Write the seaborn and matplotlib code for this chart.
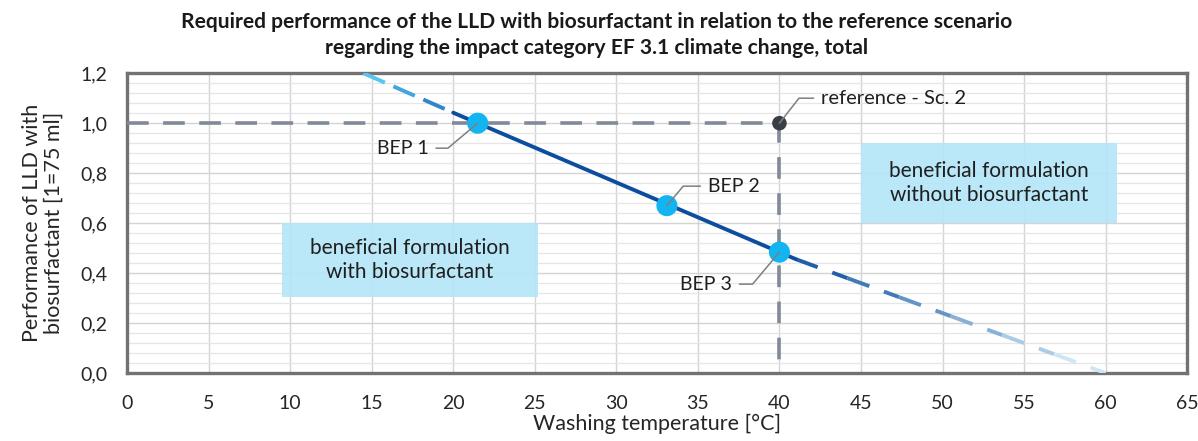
import numpy as np
import pandas as pd
import matplotlib
matplotlib.use("Agg")
import matplotlib.pyplot as plt
import seaborn as sns
from matplotlib.ticker import MultipleLocator, FuncFormatter
from matplotlib.patches import Rectangle
from matplotlib.colors import LinearSegmentedColormap

# data
solid_x = [20.0, 41.0]
solid_y = [1.042, 0.456]
upper_dash_x = [14.5, 20.0]
upper_dash_y = [1.2, 1.042]
lower_dash_x = [41.0, 60.0]
lower_dash_y = [0.456, 0.0]
ref_line_x = [0, 40, 40]
ref_line_y = [1.0, 1.0, 0.0]
bep_names = ["BEP 1", "BEP 2", "BEP 3"]
bep_x = [21.5, 33.1, 40.0]
bep_y = [1.0, 0.67, 0.484]
ref_x = [40.0]
ref_y = [1.0]

sns.set_theme(style="white")
plt.rcParams["font.family"] = ["Lato", "DejaVu Sans"]

fig = plt.figure(figsize=(11.98, 4.41), dpi=100)
ax = fig.add_axes([0.106, 0.154, 0.885, 0.680])

ax.set_xlim(0, 65)
ax.set_ylim(0, 1.2)
ax.xaxis.set_major_locator(MultipleLocator(5))
ax.yaxis.set_major_locator(MultipleLocator(0.2))
ax.yaxis.set_minor_locator(MultipleLocator(0.04))
ax.yaxis.set_major_formatter(FuncFormatter(lambda v, p: f"{v:.1f}".replace(".", ",")))
ax.grid(which="major", axis="both", color="#d4d4d4", lw=1.0, zorder=0)
ax.grid(which="minor", axis="y", color="#e6e6e6", lw=0.9, zorder=0)
ax.set_axisbelow(True)
ax.tick_params(axis="both", which="both", length=0, labelsize=14, colors="#262626")
ax.tick_params(axis="y", pad=14)
ax.tick_params(axis="x", pad=16)
for s in ax.spines.values():
    s.set_color("#767171")
    s.set_linewidth(2.4)

# boxes
ax.add_patch(Rectangle((9.5, 0.304), 15.7, 0.296, color="#b3e6f8", alpha=0.9, lw=0, zorder=1))
ax.add_patch(Rectangle((45.0, 0.60), 15.7, 0.32, color="#b3e6f8", alpha=0.9, lw=0, zorder=1))
ax.text(17.35, 0.452, "beneficial formulation\nwith biosurfactant", ha="center", va="center",
        fontsize=15, color="#1f1f1f", linespacing=1.25, zorder=2)
ax.text(52.85, 0.76, "beneficial formulation\nwithout biosurfactant", ha="center", va="center",
        fontsize=15, color="#1f1f1f", linespacing=1.25, zorder=2)

# reference dashed lines
sns.lineplot(x=ref_line_x, y=ref_line_y, sort=False, estimator=None, ax=ax, color="#808a98",
             lw=2.6, dashes=False, zorder=3)
ax.lines[-1].set_dashes([6, 4])

# dashed extensions with colour fade
def fade_dash(xs, ys, c0, c1, n=6):
    cmap = LinearSegmentedColormap.from_list("f", [c0, c1])
    tx = np.linspace(xs[0], xs[1], n + 1)
    ty = np.linspace(ys[0], ys[1], n + 1)
    for i in range(n):
        ax.plot(tx[i:i + 2], ty[i:i + 2], color=cmap(i / (n - 1)), lw=2.8,
                dashes=[6, 4], solid_capstyle="butt", zorder=4)

fade_dash(upper_dash_x, upper_dash_y, "#56c6f0", "#2f86c8", n=3)
fade_dash(lower_dash_x, lower_dash_y, "#1f5fa8", "#cfe7f5", n=6)

sns.lineplot(x=solid_x, y=solid_y, ax=ax, color="#0d4d9e", lw=2.8, zorder=5)

sns.scatterplot(x=bep_x, y=bep_y, ax=ax, s=230, color="#13b5f0", edgecolor="none", zorder=6)
sns.scatterplot(x=ref_x, y=ref_y, ax=ax, s=110, color="#3a3f46", edgecolor="none", zorder=6)

# labels with leader lines
lead = dict(arrowstyle="-", color="#7f7f7f", lw=1.1, shrinkA=3, shrinkB=0)
label_pos = [(16.9, 0.90, "angle,angleA=0,angleB=40,rad=0"),
             (37.2, 0.748, "angle,angleA=0,angleB=50,rad=0"),
             (35.5, 0.356, "angle,angleA=0,angleB=50,rad=0")]
for name, bx, by, (tx, ty, cs) in zip(bep_names, bep_x, bep_y, label_pos):
    ax.annotate(name, xy=(bx, by), xytext=(tx, ty), ha="center", va="center",
                fontsize=14, color="#1f1f1f", zorder=7,
                arrowprops=dict(lead, connectionstyle=cs))
ax.annotate("reference - Sc. 2", xy=(ref_x[0], ref_y[0]), xytext=(47.0, 1.10), ha="center", va="center",
            fontsize=14.5, color="#1f1f1f", zorder=7,
            arrowprops=dict(lead, connectionstyle="angle,angleA=0,angleB=52,rad=0"))

ax.set_xlabel("Washing temperature [°C]", fontsize=15.5, color="#262626", labelpad=1)
ax.set_ylabel("Performance of LLD with\nbiosurfactant [1=75 ml]", fontsize=15.5, color="#262626",
              labelpad=12, linespacing=1.1)

fig.suptitle("Required performance of the LLD with biosurfactant in relation to the reference scenario\n"
             "regarding the impact category EF 3.1 climate change, total",
             x=0.498, y=0.973, fontsize=15.1, fontweight="bold", color="#1a1a1a",
             family=["Lato", "DejaVu Sans"], linespacing=1.35)

fig.savefig("out.png", dpi=100)
